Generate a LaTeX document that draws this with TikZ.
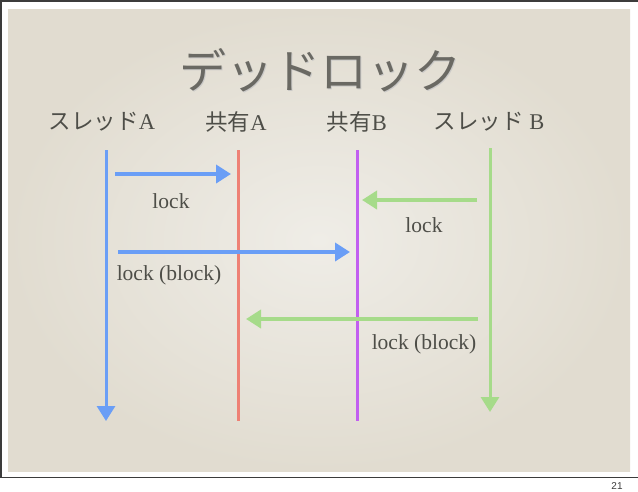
\documentclass[tikz,border=0pt]{standalone}
\usepackage{fontspec}
\setmainfont{Liberation Serif}
\setsansfont{Liberation Sans}
\newfontfamily\cjk{Noto Sans CJK JP}
\usetikzlibrary{arrows.meta}
\definecolor{paper}{HTML}{E1DCD0}
\definecolor{paperlight}{HTML}{EFEDE7}
\definecolor{framec}{HTML}{3C3C3C}
\definecolor{txt}{HTML}{4E4E48}
\definecolor{titlec}{HTML}{6A6963}
\definecolor{ablue}{HTML}{6A9EF6}
\definecolor{ared}{HTML}{EE8175}
\definecolor{apurple}{HTML}{C25FF0}
\definecolor{agreen}{HTML}{A6DB8A}
\begin{document}
\begin{tikzpicture}[x=1pt,y=-1pt,
  life/.style={line width=3pt},
  tip/.style={-{Triangle[length=15pt,width=18pt]}},
  msg/.style={line width=4pt,-{Triangle[length=15pt,width=18pt]}},
  head/.style={font=\fontsize{22.5}{26}\selectfont, text=txt, inner sep=0pt},
  lbl/.style={font=\fontsize{21.5}{24}\selectfont, text=txt, inner sep=0pt}]
\useasboundingbox (0,0) rectangle (638,491);
\fill[white] (0,0) rectangle (638,491);
\draw[framec, line width=2pt] (0,1) -- (638,1);
\draw[framec, line width=2pt] (1,0) -- (1,478);
\draw[framec, line width=1.5pt] (0,477.5) -- (638,477.5);
\shade[inner color=paperlight, outer color=paper] (8,9) rectangle (630,471);
% title
\node[font=\cjk\fontsize{47}{50}\selectfont, text=white!65!titlec, inner sep=0pt] (titleshadow) at (321.5,71.5) {デッドロック};
\node[font=\cjk\fontsize{47}{50}\selectfont, text=titlec, inner sep=0pt] (title) at (320,70) {デッドロック};
% heads
\node[head] (hA) at (102,122) {{\cjk スレッド}A};
\node[head] (hRA) at (236,122) {{\cjk 共有}A};
\node[head] (hRB) at (357,122) {{\cjk 共有}B};
\node[head] (hB) at (489,122) {{\cjk スレッド} B};
% lifeline coordinates
\coordinate (a0) at (106,150); \coordinate (a1) at (106,421);
\coordinate (r0) at (238,150); \coordinate (r1) at (238,421);
\coordinate (p0) at (357,150); \coordinate (p1) at (357,421);
\coordinate (b0) at (490,148); \coordinate (b1) at (490,412);
\draw[life, ared] (r0) -- (r1);
\draw[life, apurple] (p0) -- (p1);
\draw[life, ablue, tip] (a0) -- (a1);
\draw[life, agreen, tip] (b0) -- (b1);
% messages
\coordinate (m1s) at (115,174); \coordinate (m1e) at (231,174);
\coordinate (m2s) at (477,200); \coordinate (m2e) at (362,200);
\coordinate (m3s) at (118,252); \coordinate (m3e) at (350,252);
\coordinate (m4s) at (478,319); \coordinate (m4e) at (246,319);
\draw[msg, ablue] (m1s) -- (m1e);
\draw[msg, agreen] (m2s) -- (m2e);
\draw[msg, ablue] (m3s) -- (m3e);
\draw[msg, agreen] (m4s) -- (m4e);
\node[lbl] (l1) at (171,201) {lock};
\node[lbl] (l2) at (424,225) {lock};
\node[lbl] (l3) at (169,275) {lock (block)};
\node[lbl] (l4) at (424,344) {lock (block)};
% page number
\node[font=\sffamily\fontsize{10}{11}\selectfont, text=framec, inner sep=0pt] (pg) at (617,486) {21};
\end{tikzpicture}
\end{document}
